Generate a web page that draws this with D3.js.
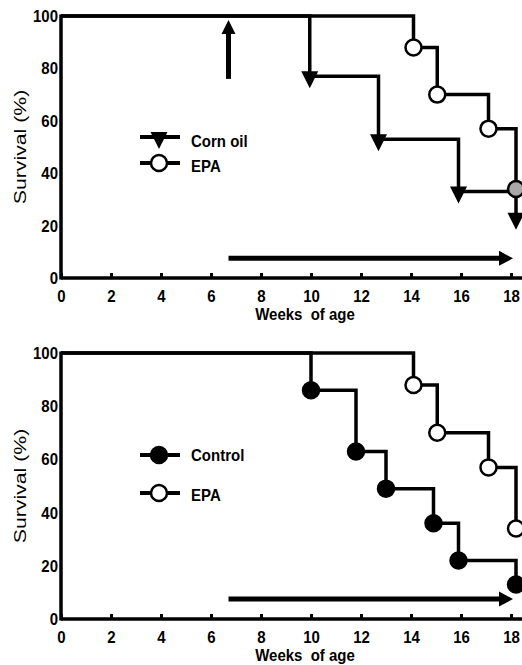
<!DOCTYPE html>
<html>
<head>
<meta charset="utf-8">
<style>
body { margin: 0; background: #fff; }
text { font-family: "Liberation Sans", Arial, sans-serif; }
.tick text, .lab { font-weight: bold; font-size: 15px; fill: #000; }
</style>
<script src="https://d3js.org/d3.v7.min.js"></script>
</head>
<body>
<script>
// data
var weekTicks = [0, 2, 4, 6, 8, 10, 12, 14, 16, 18]
var survTicks = [0, 20, 40, 60, 80, 100]

var cornWeeks = [9.95, 12.7, 15.9, 18.2]
var cornSurv = [77, 53, 33, 23]

var epaWeeks = [14.1, 15.05, 17.1, 18.2]
var epaSurv = [88, 70, 57, 34]

var controlWeeks = [10, 11.8, 13, 14.9, 15.9, 18.2]
var controlSurv = [86, 63, 49, 36, 22, 13]

var treatWeek = 6.7      // start of treatment (arrows)
var arrowEndWeek = 18
var arrowLevel = 7.5

var w = 522, h = 665
var stretch = 1.15   // the scanned figure's text is taller than it is wide

var svg = d3.select("body")
            .append("svg")
            .attr("width", w)
            .attr("height", h)

var x = d3.scaleLinear().domain([0, 18]).range([61, 511])

function stepPoints(weeks, surv) {
    var pts = [[0, 100]]
    weeks.forEach(function(d, i) { pts.push([d, surv[i]]) })
    return pts
}

function boldText(g, tx, ty, str, anchor, sy) {
    g.append("text")
     .attr("class", "lab")
     .attr("transform", "translate(" + tx + "," + ty + ") scale(1," + (sy || stretch) + ")")
     .attr("text-anchor", anchor || "start")
     .attr("dy", "0.35em")
     .attr("xml:space", "preserve")
     .text(str)
}

function drawPanel(top, bottom, series, legend, upArrow) {
    var y = d3.scaleLinear().domain([0, 100]).range([bottom, top])
    var g = svg.append("g")

    var line = d3.line()
                 .x(function(d) { return x(d[0]) })
                 .y(function(d) { return y(d[1]) })
                 .curve(d3.curveStepAfter)

    // axes
    var xAxis = d3.axisBottom(x).tickValues(weekTicks).tickSize(-5).tickPadding(10)
    var gx = g.append("g")
              .attr("transform", "translate(0," + bottom + ")")
              .call(xAxis)
    gx.select(".domain").remove()
    gx.selectAll(".tick line").attr("stroke", "#000").attr("stroke-width", 3)
    gx.selectAll(".tick text").attr("transform", "scale(1," + stretch + ")")

    var yAxis = d3.axisLeft(y).tickValues(survTicks).tickSize(0).tickPadding(3)
    var gy = g.append("g")
              .attr("transform", "translate(" + x(0) + ",0)")
              .call(yAxis)
    gy.select(".domain").remove()
    gy.selectAll(".tick text").attr("transform", "scale(1," + stretch + ")")

    g.append("line")
     .attr("x1", x(0)).attr("x2", w)
     .attr("y1", bottom).attr("y2", bottom)
     .attr("stroke", "#000").attr("stroke-width", 3.5)
    g.append("line")
     .attr("x1", x(0)).attr("x2", x(0))
     .attr("y1", bottom + 1.5).attr("y2", y(100) - 1.5)
     .attr("stroke", "#000").attr("stroke-width", 3.5)

    boldText(g, 305, bottom + 36, "Weeks  of age", "middle", 1.05)

    g.append("text")
     .attr("transform", "translate(26," + (top + bottom) / 2 + ") rotate(-90) scale(1.25,1)")
     .attr("text-anchor", "middle")
     .attr("font-size", "17px")
     .text("Survival (%)")

    // treatment arrow along the bottom
    var ay = y(arrowLevel)
    g.append("line")
     .attr("x1", x(treatWeek)).attr("x2", x(arrowEndWeek) - 10)
     .attr("y1", ay).attr("y2", ay)
     .attr("stroke", "#000").attr("stroke-width", 5)
    g.append("path")
     .attr("d", "M" + (x(arrowEndWeek) + 2) + "," + ay + "l-14,-7.5l0,15z")
     .attr("fill", "#000")

    if (upArrow) {
        var ux = x(treatWeek)
        g.append("line")
         .attr("x1", ux).attr("x2", ux)
         .attr("y1", y(76)).attr("y2", y(95))
         .attr("stroke", "#000").attr("stroke-width", 5)
        g.append("path")
         .attr("d", "M" + ux + "," + y(98.5) + "l-7,14l14,0z")
         .attr("fill", "#000")
    }

    // survival steps
    series.forEach(function(s) {
        g.append("path")
         .attr("d", line(stepPoints(s.weeks, s.surv)))
         .attr("fill", "none")
         .attr("stroke", "#000")
         .attr("stroke-width", 3.5)
    })

    function marker(sel, type, fill) {
        if (type == "tri") {
            sel.append("path")
               .attr("d", "M-8.5,-5L8.5,-5L0,12Z")
               .attr("fill", "#000")
        } else {
            sel.append("circle")
               .attr("r", 8)
               .attr("fill", fill)
               .attr("stroke", "#000")
               .attr("stroke-width", 2.5)
        }
    }

    series.forEach(function(s) {
        s.weeks.forEach(function(d, i) {
            var m = g.append("g")
                     .attr("transform", "translate(" + x(d) + "," + y(s.surv[i]) + ")")
            var fill = s.fill
            if (s.grey && s.grey.indexOf(i) >= 0) fill = "#a8a8a8"
            marker(m, s.type, fill)
        })
    })

    // legend
    legend.forEach(function(l) {
        var ly = l.y
        g.append("line")
         .attr("x1", 140).attr("x2", 180)
         .attr("y1", ly).attr("y2", ly)
         .attr("stroke", "#000").attr("stroke-width", 4)
        var m = g.append("g").attr("transform", "translate(159," + ly + ")")
        marker(m, l.type, l.fill)
        boldText(g, 191, ly + l.dy, l.name)
    })
}

drawPanel(16, 278,
    [{weeks: epaWeeks, surv: epaSurv, type: "circle", fill: "#fff", grey: [3]},
     {weeks: cornWeeks, surv: cornSurv, type: "tri"}],
    [{name: "Corn oil", type: "tri", y: 137, dy: 4},
     {name: "EPA", type: "circle", fill: "#fff", y: 163, dy: 3}],
    true)

drawPanel(353, 619,
    [{weeks: epaWeeks, surv: epaSurv, type: "circle", fill: "#fff"},
     {weeks: controlWeeks, surv: controlSurv, type: "circle", fill: "#000"}],
    [{name: "Control", type: "circle", fill: "#000", y: 455, dy: 0},
     {name: "EPA", type: "circle", fill: "#fff", y: 493, dy: 2}],
    false)
</script>
</body>
</html>
